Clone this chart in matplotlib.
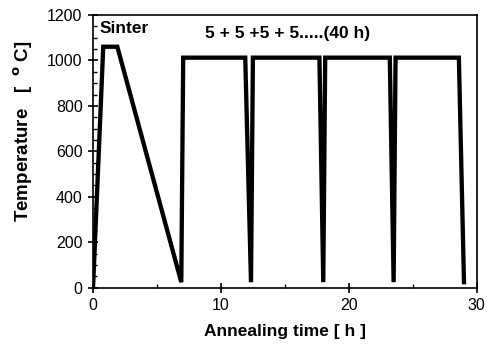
import matplotlib.pyplot as plt
from matplotlib.ticker import MultipleLocator

plt.rcParams['font.family'] = ['Liberation Sans', 'DejaVu Sans']

# annealing schedule
time_h = [0, 0.8, 1.9, 6.9, 7.05, 11.9, 12.35, 12.5, 17.7, 18.0, 18.15,
          23.2, 23.5, 23.65, 28.6, 29.0]
temp_c = [0, 1060, 1060, 25, 1012, 1012, 25, 1012, 1012, 25, 1012,
          1012, 25, 1012, 1012, 25]

fig = plt.figure(figsize=(4.87, 3.46), dpi=100)
ax = fig.add_axes([0.191, 0.168, 0.788, 0.789])

ax.plot(time_h, temp_c, 'k-', linewidth=3.1, solid_joinstyle='miter')

ax.set_xlim(0, 30)
ax.set_ylim(0, 1200)
ax.xaxis.set_major_locator(MultipleLocator(10))
ax.xaxis.set_minor_locator(MultipleLocator(5))
ax.yaxis.set_major_locator(MultipleLocator(200))
ax.yaxis.set_minor_locator(MultipleLocator(50))
ax.tick_params(which='major', direction='inout', length=7, width=1.2,
               labelsize=11.5, pad=4)
ax.tick_params(which='minor', direction='in', length=3, width=1.0)
for s in ax.spines.values():
    s.set_linewidth(1.2)

ax.set_xlabel('Annealing time [ h ]', fontsize=12.5, fontweight='bold', labelpad=8)
ax.set_ylabel('Temperature   [  $^{\\mathbf{o}}$ C]', fontsize=13.5,
              fontweight='bold')
ax.yaxis.set_label_coords(-0.152, 0.575)

ax.text(0.5, 1140, 'Sinter', fontsize=12.5, fontweight='bold', va='center')
ax.text(15.2, 1120, '5 + 5 +5 + 5.....(40 h)', fontsize=12.5,
        fontweight='bold', ha='center', va='center')

plt.savefig('out.png', dpi=100)
